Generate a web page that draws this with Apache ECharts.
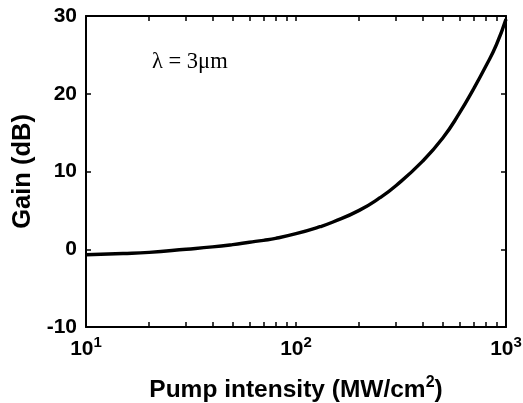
<!DOCTYPE html>
<html>
<head>
<meta charset="utf-8">
<script src="https://cdn.jsdelivr.net/npm/echarts@6/dist/echarts.min.js"></script>
<style>
  html, body { margin: 0; padding: 0; background: #fff; }
  #chart { width: 523px; height: 403px; }
</style>
</head>
<body>
<div id="chart"></div>
<script>
// pump intensity (MW/cm^2) and gain (dB)
const intensity = [10, 15, 20, 30, 40, 50, 60, 70, 80, 100, 130, 150, 200, 250, 300, 400, 500, 600, 700, 800, 900, 1000];
const gain = [-0.7, -0.55, -0.4, 0.0, 0.3, 0.6, 0.9, 1.15, 1.4, 2.0, 2.9, 3.5, 5.0, 6.6, 8.2, 11.3, 14.3, 17.5, 20.6, 23.5, 26.3, 29.6];
const yTicks = [-10, 0, 10, 20, 30];
// log tick marks 10..90, 100..900, 1000
const logTicks = [10, 20, 30, 40, 50, 60, 70, 80, 90, 100, 200, 300, 400, 500, 600, 700, 800, 900, 1000];

const chart = echarts.init(document.getElementById('chart'));
const bold = { fontFamily: 'Liberation Sans', fontWeight: 'bold', color: '#000' };
const tickExp = logTicks.map(v => Math.log10(v));

const tickAxis = (pos) => ({
  type: 'value',
  position: pos,
  min: 1, max: 3,
  axisLine: { show: pos === 'top', onZero: false, lineStyle: { color: '#000', width: 2 } },
  axisTick: { show: true, inside: true, length: 5, customValues: tickExp, lineStyle: { color: '#000', width: 1.5 } },
  axisLabel: { show: false },
  splitLine: { show: false }
});

chart.setOption({
  animation: false,
  grid: { left: 86, right: 17, top: 16, bottom: 76, outerBoundsMode: 'none' },
  xAxis: [
    {
      type: 'log',
      logBase: 10,
      min: 10, max: 1000,
      position: 'bottom',
      name: 'Pump intensity (MW/cm{s|2})',
      nameLocation: 'middle',
      nameGap: 48,
      nameTextStyle: Object.assign({}, bold, {
        fontSize: 24.5,
        rich: { s: Object.assign({}, bold, { fontSize: 16, padding: [0, 0, 14, 0] }) }
      }),
      axisLine: { onZero: false, lineStyle: { color: '#000', width: 2 } },
      axisTick: { show: false },
      axisLabel: Object.assign({}, bold, {
        fontSize: 21,
        margin: 8,
        formatter: v => '10{s|' + Math.round(Math.log10(v)) + '}',
        rich: { s: Object.assign({}, bold, { fontSize: 15, padding: [0, 0, 14, 0] }) }
      }),
      splitLine: { show: false }
    },
    tickAxis('bottom'),
    tickAxis('top')
  ],
  yAxis: [
    {
      type: 'value',
      min: -10, max: 30, interval: 10,
      position: 'left',
      name: 'Gain (dB)',
      nameLocation: 'middle',
      nameGap: 49,
      nameTextStyle: Object.assign({}, bold, { fontSize: 25.5 }),
      axisLine: { show: true, onZero: false, lineStyle: { color: '#000', width: 2 } },
      axisTick: { show: true, inside: true, length: 5, lineStyle: { color: '#000', width: 1.5 } },
      axisLabel: Object.assign({}, bold, {
        fontSize: 21,
        margin: 9,
        formatter: v => yTicks.includes(v) ? String(v) : ''
      }),
      splitLine: { show: false }
    },
    {
      type: 'value',
      min: -10, max: 30, interval: 10,
      position: 'right',
      axisLine: { show: true, onZero: false, lineStyle: { color: '#000', width: 2 } },
      axisTick: { show: true, inside: true, length: 5, lineStyle: { color: '#000', width: 1.5 } },
      axisLabel: { show: false },
      splitLine: { show: false }
    }
  ],
  graphic: [{
    type: 'text',
    left: 152,
    top: 51,
    style: { text: 'λ = 3μm', fontFamily: 'Liberation Serif', fontSize: 22.5, fill: '#000' }
  }],
  series: [{
    type: 'line',
    xAxisIndex: 0,
    yAxisIndex: 0,
    data: intensity.map((x, i) => [x, gain[i]]),
    smooth: true,
    showSymbol: false,
    lineStyle: { color: '#000', width: 3.4 }
  }]
});
</script>
</body>
</html>
